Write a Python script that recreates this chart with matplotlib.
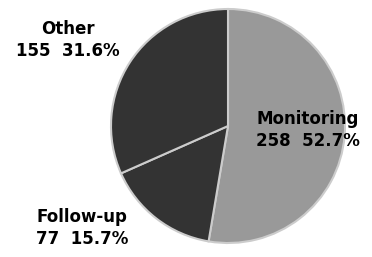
import matplotlib
matplotlib.use("Agg")
import matplotlib.pyplot as plt

categories = ["Monitoring", "Follow-up", "Other"]
counts = [258, 77, 155]
percents = [52.7, 15.7, 31.6]
colors = ["#999999", "#333333", "#333333"]

# label centres in pixels of the 372x257 picture (x, y from top)
label_pos = [(308, 130), (82, 228), (68, 40)]

W, H = 372, 257
fig = plt.figure(figsize=(W / 100, H / 100), dpi=100)

# pie centre and radius in pixels
cx, cy, r = 228, 126, 117
ax = fig.add_axes([(cx - r) / W, (H - cy - r) / H, 2 * r / W, 2 * r / H])
ax.pie(counts, colors=colors, startangle=90, counterclock=False,
       wedgeprops=dict(edgecolor="#cccccc", linewidth=1.5))
ax.set_xlim(-1, 1)
ax.set_ylim(-1, 1)
ax.set_aspect("auto")
ax.axis("off")

for name, n, p, (x, y) in zip(categories, counts, percents, label_pos):
    fig.text(x / W, 1 - y / H, "%s\n%d  %.1f%%" % (name, n, p),
             ha="center", va="center", fontsize=12, fontweight="bold",
             linespacing=1.35, color="black")

fig.savefig("out.png", dpi=100)
